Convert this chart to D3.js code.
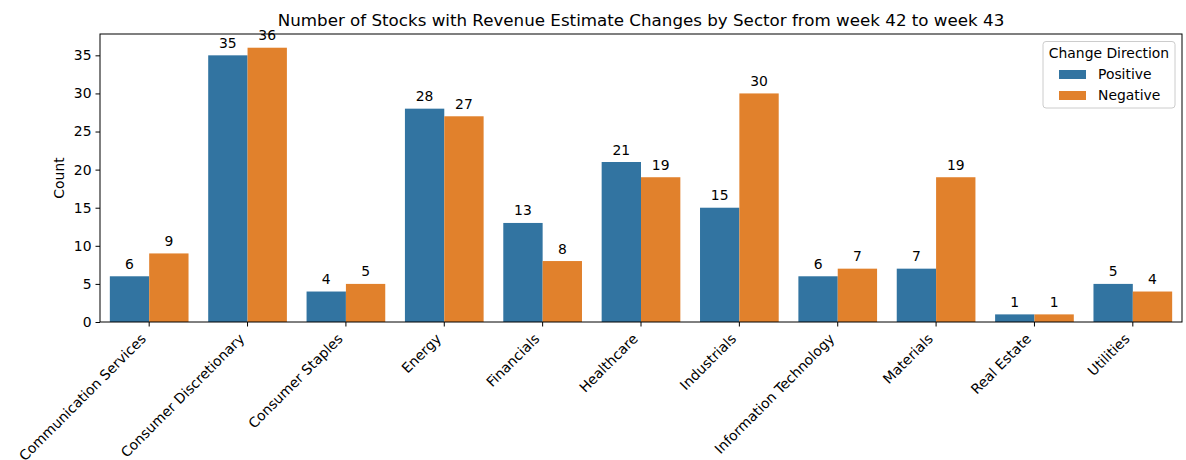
<!DOCTYPE html>
<html>
<head>
<meta charset="utf-8">
<script src="https://cdn.jsdelivr.net/npm/d3@7"></script>
<style>
  body { margin: 0; background: #fff; }
  text { font-family: "DejaVu Sans", sans-serif; fill: #000; }
</style>
</head>
<body>
<div id="chart"></div>
<script>
// data
let sectors = ["Communication Services", "Consumer Discretionary", "Consumer Staples", "Energy",
    "Financials", "Healthcare", "Industrials", "Information Technology", "Materials",
    "Real Estate", "Utilities"];
let directions = ["Positive", "Negative"];
let positive = [6, 35, 4, 28, 13, 21, 15, 6, 7, 1, 5];
let negative = [9, 36, 5, 27, 8, 19, 30, 7, 19, 1, 4];
let yTicks = [0, 5, 10, 15, 20, 25, 30, 35];
let colors = ["#3274a1", "#e1812c"];

let width = 1186;
let height = 460;
let margin = {top: 34, right: 4, bottom: 138, left: 100};
let fs = "13.9px";

let rows = [];
sectors.forEach((s, i) => {
    rows.push({sector: s, dir: "Positive", value: positive[i]});
    rows.push({sector: s, dir: "Negative", value: negative[i]});
});

let svg = d3.select("#chart")
    .append("svg")
    .attr("width", width)
    .attr("height", height);

let x = d3.scaleBand()
    .domain(sectors)
    .range([margin.left, width - margin.right]);

let xInner = d3.scaleBand()
    .domain(directions)
    .range([0, x.bandwidth() * 0.8]);

let yMax = d3.max(rows, d => d.value) * 1.05;
let y = d3.scaleLinear()
    .domain([0, yMax])
    .range([height - margin.bottom, margin.top]);

let color = d3.scaleOrdinal().domain(directions).range(colors);

// bars
svg.append("g")
    .selectAll("rect")
    .data(rows)
    .join("rect")
        .attr("x", d => x(d.sector) + x.bandwidth() * 0.1 + xInner(d.dir))
        .attr("y", d => y(d.value))
        .attr("width", xInner.bandwidth())
        .attr("height", d => y(0) - y(d.value))
        .attr("fill", d => color(d.dir));

// bar labels
svg.append("g")
    .selectAll("text")
    .data(rows)
    .join("text")
        .attr("x", d => x(d.sector) + x.bandwidth() * 0.1 + xInner(d.dir) + xInner.bandwidth() / 2)
        .attr("y", d => y(d.value) - 7.5)
        .attr("text-anchor", "middle")
        .attr("font-size", fs)
        .text(d => d.value);

// frame
svg.append("rect")
    .attr("x", margin.left)
    .attr("y", margin.top)
    .attr("width", width - margin.left - margin.right)
    .attr("height", height - margin.top - margin.bottom)
    .attr("fill", "none")
    .attr("stroke", "#000")
    .attr("stroke-width", 1);

// x axis
let xAxis = svg.append("g")
    .attr("transform", `translate(0, ${height - margin.bottom})`)
    .call(d3.axisBottom(x).tickSize(4.5).tickSizeOuter(0));
xAxis.select(".domain").remove();
xAxis.selectAll(".tick line").attr("stroke", "#000");
xAxis.selectAll(".tick text")
    .attr("font-size", fs)
    .attr("font-family", "DejaVu Sans, sans-serif")
    .attr("fill", "#000")
    .attr("text-anchor", "end")
    .attr("x", -8.1)
    .attr("y", 4.8)
    .attr("dy", 0)
    .attr("transform", "translate(0, 8.6) rotate(-45)");

// y axis
let yAxis = svg.append("g")
    .attr("transform", `translate(${margin.left}, 0)`)
    .call(d3.axisLeft(y).tickValues(yTicks).tickSize(4.5).tickPadding(4).tickSizeOuter(0));
yAxis.select(".domain").remove();
yAxis.selectAll(".tick line").attr("stroke", "#000");
yAxis.selectAll(".tick text")
    .attr("font-size", fs)
    .attr("font-family", "DejaVu Sans, sans-serif")
    .attr("fill", "#000");

// y label
svg.append("text")
    .attr("transform", "rotate(-90)")
    .attr("x", -(margin.top + (height - margin.bottom - margin.top) / 2))
    .attr("y", 64)
    .attr("text-anchor", "middle")
    .attr("font-size", fs)
    .text("Count");

// title
svg.append("text")
    .attr("x", (margin.left + width - margin.right) / 2)
    .attr("y", 26)
    .attr("text-anchor", "middle")
    .attr("font-size", "16.7px")
    .text("Number of Stocks with Revenue Estimate Changes by Sector from week 42 to week 43");

// legend
let legend = svg.append("g").attr("transform", "translate(1043, 41.5)");
legend.append("rect")
    .attr("width", 132)
    .attr("height", 66.5)
    .attr("rx", 3)
    .attr("fill", "#fff")
    .attr("fill-opacity", 0.8)
    .attr("stroke", "#ccc");
legend.append("text")
    .attr("x", 66)
    .attr("y", 16)
    .attr("text-anchor", "middle")
    .attr("font-size", fs)
    .text("Change Direction");
directions.forEach((dname, i) => {
    legend.append("rect")
        .attr("x", 16)
        .attr("y", 28.5 + i * 21)
        .attr("width", 27)
        .attr("height", 9)
        .attr("fill", color(dname));
    legend.append("text")
        .attr("x", 55)
        .attr("y", 37.5 + i * 21)
        .attr("font-size", fs)
        .text(dname);
});
</script>
</body>
</html>
